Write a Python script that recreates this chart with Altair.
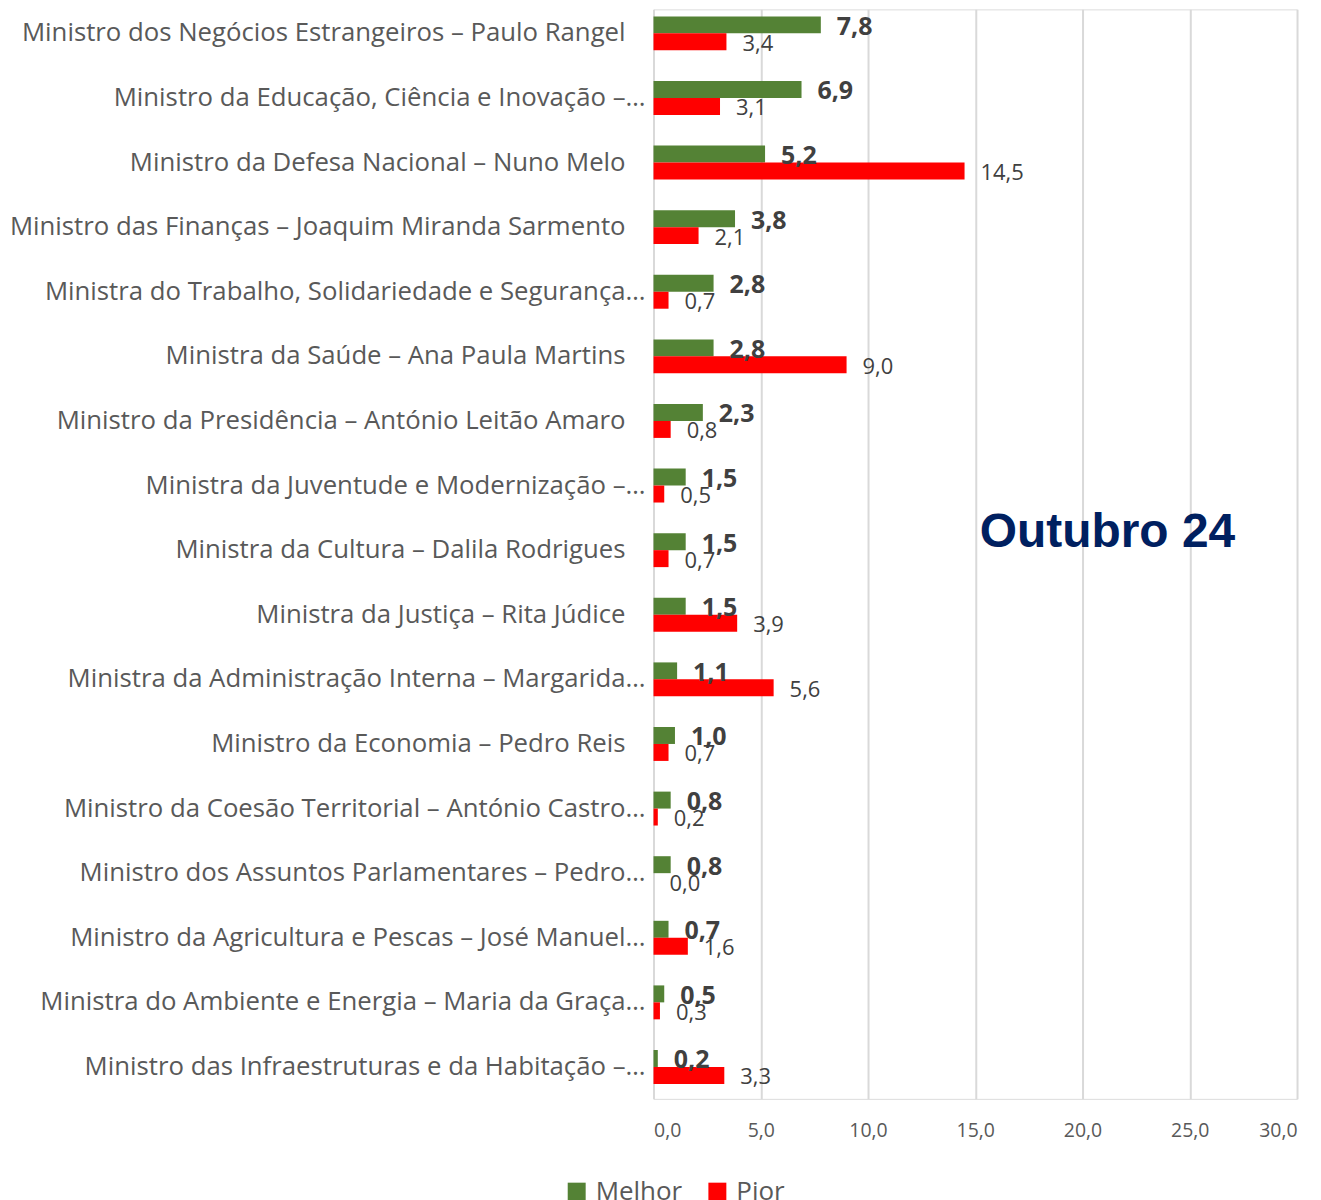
import altair as alt
import pandas as pd

categories = [
    "Ministro dos Negócios Estrangeiros – Paulo Rangel",
    "Ministro da Educação, Ciência e Inovação –…",
    "Ministro da Defesa Nacional – Nuno Melo",
    "Ministro das Finanças – Joaquim Miranda Sarmento",
    "Ministra do Trabalho, Solidariedade e Segurança…",
    "Ministra da Saúde – Ana Paula Martins",
    "Ministro da Presidência – António Leitão Amaro",
    "Ministra da Juventude e Modernização –…",
    "Ministra da Cultura – Dalila Rodrigues",
    "Ministra da Justiça – Rita Júdice",
    "Ministra da Administração Interna – Margarida…",
    "Ministro da Economia – Pedro Reis",
    "Ministro da Coesão Territorial – António Castro…",
    "Ministro dos Assuntos Parlamentares – Pedro…",
    "Ministro da Agricultura e Pescas – José Manuel…",
    "Ministra do Ambiente e Energia – Maria da Graça…",
    "Ministro das Infraestruturas e da Habitação –…",
]
melhor = [7.8, 6.9, 5.2, 3.8, 2.8, 2.8, 2.3, 1.5, 1.5, 1.5, 1.1, 1.0, 0.8, 0.8, 0.7, 0.5, 0.2]
pior = [3.4, 3.1, 14.5, 2.1, 0.7, 9.0, 0.8, 0.5, 0.7, 3.9, 5.6, 0.7, 0.2, 0.0, 1.6, 0.3, 3.3]
series = ["Melhor", "Pior"]
colors = ["#548235", "#FF0000"]
x_ticks = [0, 5, 10, 15, 20, 25, 30]
annotation = "Outubro 24"

rows = []
for c, m, p in zip(categories, melhor, pior):
    rows.append({"cat": c, "serie": "Melhor", "v": m})
    rows.append({"cat": c, "serie": "Pior", "v": p})
df = pd.DataFrame(rows)
df["lab"] = df["v"].map(lambda v: f"{v:.1f}".replace(".", ","))

cat_df = pd.DataFrame({"cat": categories})
cat_df["trunc"] = cat_df["cat"].str.endswith("…")

FONT = "Open Sans"

yscale = alt.Scale(domain=categories, paddingInner=0.475, paddingOuter=0.17, align=0.32, round=False)
y_enc = alt.Y("cat:N", scale=yscale, axis=None)
yoff = alt.YOffset("serie:N", sort=series, scale=alt.Scale(domain=series, paddingInner=0, paddingOuter=0))
x_enc = alt.X(
    "v:Q",
    scale=alt.Scale(domain=[0, 30], nice=False),
    axis=alt.Axis(
        values=x_ticks,
        labelExpr="replace(format(datum.value, '.1f'), '.', ',')",
        title=None,
        domain=False,
        ticks=False,
        grid=True,
        gridColor="#d9d9d9",
        gridWidth=2,
        labelFont=FONT,
        labelFontSize=19.5,
        labelColor="#595959",
        labelPadding=23,
    ),
)

base = alt.Chart(df)

bars = base.mark_bar().encode(
    y=y_enc,
    yOffset=yoff,
    x=x_enc,
    color=alt.Color(
        "serie:N",
        scale=alt.Scale(domain=series, range=colors),
        legend=alt.Legend(
            title=None,
            orient="none",
            legendX=-90,
            legendY=1172,
            direction="horizontal",
            symbolType="square",
            symbolSize=324,
            symbolStrokeWidth=0,
            labelFont=FONT,
            labelFontSize=26,
            labelColor="#595959",
            labelOffset=6,
            columnPadding=22,
            padding=0,
        ),
    ),
)

lab_m = base.transform_filter("datum.serie == 'Melhor'").mark_text(
    align="left", baseline="middle", dx=16, dy=2, font=FONT, fontSize=25, fontWeight="bold", color="#404040"
).encode(y=y_enc, yOffset=yoff, x=alt.X("v:Q"), text="lab:N")

lab_p = base.transform_filter("datum.serie == 'Pior'").mark_text(
    align="left", baseline="middle", dx=16, dy=2, font=FONT, fontSize=22, color="#404040"
).encode(y=y_enc, yOffset=yoff, x=alt.X("v:Q"), text="lab:N")

cbase = alt.Chart(cat_df)
ylab_full = cbase.transform_filter("!datum.trunc").mark_text(
    align="right", baseline="middle", dx=-28, font=FONT, fontSize=25.8, color="#595959"
).encode(y=y_enc, x=alt.value(0), text="cat:N")
ylab_trunc = cbase.transform_filter("datum.trunc").mark_text(
    align="right", baseline="middle", dx=-8, font=FONT, fontSize=25.8, color="#595959"
).encode(y=y_enc, x=alt.value(0), text="cat:N")

ann = alt.Chart(pd.DataFrame({"t": [annotation]})).mark_text(
    align="center", baseline="middle", font="Liberation Sans", fontSize=48, fontWeight="bold", color="#002060"
).encode(x=alt.value(455), y=alt.value(525), text="t:N")

chart = (
    alt.layer(bars, lab_m, lab_p, ylab_full, ylab_trunc, ann)
    .properties(
        width=645,
        height=1092,
        autosize=alt.AutoSizeParams(type="none"),
        padding={"left": 647, "top": 0, "right": 16, "bottom": 100},
    )
    .configure_view(stroke=None)
    .configure(background="white")
)

chart.save("out.html", embed_options={"renderer": "svg", "actions": False})
